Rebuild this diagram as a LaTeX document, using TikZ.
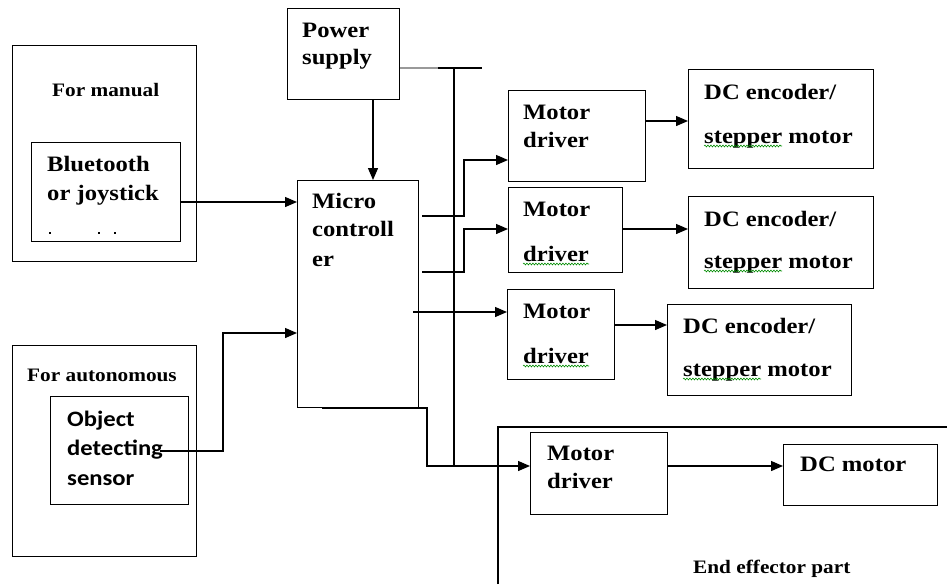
\documentclass[tikz,border=0pt]{standalone}
\usepackage{fontspec}
\usetikzlibrary{arrows.meta,decorations.pathmorphing}
\newfontfamily\tnrfont[FakeStretch=1.12]{Liberation Serif}
\newfontfamily\carlfont[FakeStretch=1.12]{Carlito}
\begin{document}
\begin{tikzpicture}[x=1pt,y=-1pt,
  box/.style={draw,line width=1.3pt,anchor=north west,inner sep=0pt,rectangle},
  txt/.style={anchor=west,inner sep=0pt,text height=14pt,text depth=0pt,font=\tnrfont\bfseries\fontsize{22}{26}\selectfont},
  smalltxt/.style={anchor=west,inner sep=0pt,text height=13pt,text depth=0pt,font=\tnrfont\bfseries\fontsize{19}{23}\selectfont},
  caltxt/.style={anchor=west,inner sep=0pt,text height=14pt,text depth=0pt,font=\carlfont\bfseries\fontsize{22}{26}\selectfont},
  wire/.style={line width=1.3pt},
  arr/.style={line width=1.3pt,-{Triangle[length=12pt,width=10pt]}},
  squig/.style={draw=green!55!black,line width=0.6pt,decorate,decoration={snake,amplitude=0.9pt,segment length=3pt}}]
\useasboundingbox[fill=white] (0,0) rectangle (947,584);

% boxes
\node[box,minimum width=184pt,minimum height=216pt] (manual) at (12,45) {};
\node[box,minimum width=149pt,minimum height=99pt] (bt) at (31,142) {};
\node[box,minimum width=112pt,minimum height=91pt] (power) at (287,8) {};
\node[box,minimum width=121pt,minimum height=227pt] (micro) at (297,180) {};
\node[box,minimum width=137pt,minimum height=91pt] (md1) at (508,90) {};
\node[box,minimum width=114pt,minimum height=85pt] (md2) at (508,187) {};
\node[box,minimum width=107pt,minimum height=90pt] (md3) at (507,289) {};
\node[box,minimum width=137pt,minimum height=82pt] (md4) at (530,432) {};
\node[box,minimum width=185pt,minimum height=99pt] (dc1) at (688,69) {};
\node[box,minimum width=185pt,minimum height=92pt] (dc2) at (688,196) {};
\node[box,minimum width=184pt,minimum height=91pt] (dc3) at (667,304) {};
\node[box,minimum width=154pt,minimum height=61pt] (dcm) at (783,444) {};
\node[box,minimum width=184pt,minimum height=211pt] (auto) at (12,345) {};
\node[box,minimum width=138pt,minimum height=108pt] (obj) at (50,396) {};

% end effector frame
\draw[wire] (498,584) -- (498,427) -- (947,427);

% texts
\node[smalltxt] (tman) at (52,90) {For manual};
\node[txt] (tbt1) at (47,164) {Bluetooth};
\node[txt] (tbt2) at (47,193) {or joystick};
\fill (49,232) rectangle (51,234);
\fill (98,232) rectangle (100,234);
\fill (114,232) rectangle (116,234);
\node[txt] (tpw1) at (302,30) {Power};
\node[txt] (tpw2) at (302,57) {supply};
\node[txt] (tmc1) at (312,201) {Micro};
\node[txt] (tmc2) at (312,229) {controll};
\node[txt] (tmc3) at (312,259) {er};
\node[txt] (tmd1a) at (523,112) {Motor};
\node[txt] (tmd1b) at (523,140) {driver};
\node[txt] (tmd2a) at (523,209) {Motor};
\node[txt] (tmd2b) at (523,254) {driver};
\node[txt] (tmd3a) at (523,311) {Motor};
\node[txt] (tmd3b) at (523,356) {driver};
\node[txt] (tmd4a) at (547,453) {Motor};
\node[txt] (tmd4b) at (547,481) {driver};
\node[txt] (tdc1a) at (704,92) {DC encoder/};
\node[txt] (tdc1b) at (704,136) {stepper motor};
\node[txt] (tdc2a) at (704,219) {DC encoder/};
\node[txt] (tdc2b) at (704,261) {stepper motor};
\node[txt] (tdc3a) at (683,326) {DC encoder/};
\node[txt] (tdc3b) at (683,369) {stepper motor};
\node[txt] (tdcm) at (800,464) {DC motor};
\node[smalltxt] (tend) at (693,567) {End effector part};
\node[smalltxt] (tauto) at (27,375) {For autonomous};
\node[caltxt] (tobj1) at (67,419) {Object};
\node[caltxt] (tobj2) at (67,448) {detecting};
\node[caltxt] (tobj3) at (67,478) {sensor};

% spell-check underlines
\path[squig] (704,146) -- (782,146);
\path[squig] (704,271) -- (782,271);
\path[squig] (683,379) -- (761,379);
\path[squig] (523,264) -- (589,264);
\path[squig] (523,366) -- (589,366);

% connectors
\coordinate (btout) at (bt.east |- 0,202);
\draw[arr] (btout) -- (micro.west |- btout);
\draw[arr] (373,0 |- power.south) -- (373,0 |- micro.north);
\coordinate (objout) at (160,451);
\draw[arr] (objout) -- (223,451) -- (223,333) -- (micro.west |- 0,333);

\coordinate (pwout) at (power.east |- 0,68);
\coordinate (pwend) at (482,68);
\draw[line width=1.3pt,gray!80] (pwout) -- (438,68);
\draw[wire] (438,68) -- (pwend);
\draw[wire] (454,68) -- (454,466);

\coordinate (mo1) at (422,216);
\coordinate (mo2) at (422,272);
\coordinate (mo3) at (413,312);
\coordinate (mo4) at (322,408);
\draw[arr] (mo1) -- (464,216) -- (464,160) -- (md1.west |- 0,160);
\draw[arr] (mo2) -- (464,272) -- (464,229) -- (md2.west |- 0,229);
\draw[arr] (mo3) -- (md3.west |- mo3);
\draw[arr] (mo4) -- (427,408) -- (427,466) -- (md4.west |- 0,466);

\draw[arr] (md1.east |- 0,121) -- (dc1.west |- 0,121);
\draw[arr] (md2.east |- 0,229) -- (dc2.west |- 0,229);
\draw[arr] (md3.east |- 0,325) -- (dc3.west |- 0,325);
\draw[arr] (md4.east |- 0,466) -- (dcm.west |- 0,466);
\end{tikzpicture}
\end{document}
